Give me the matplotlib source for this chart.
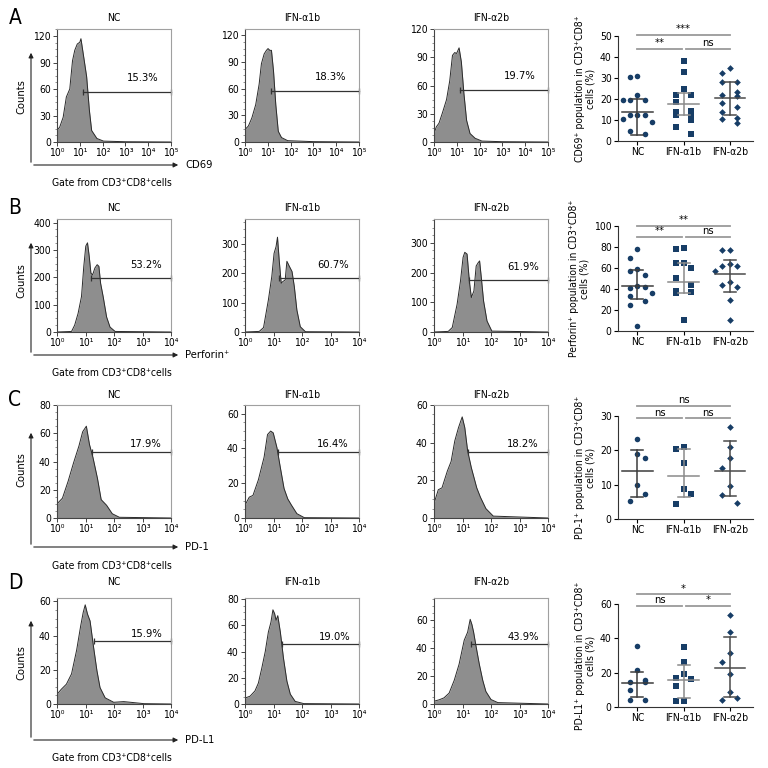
import numpy as np
import matplotlib.pyplot as plt
from matplotlib.patches import FancyArrowPatch
from matplotlib.ticker import AutoMinorLocator, FixedLocator, LogLocator, NullFormatter

plt.rcParams['font.family'] = ['DejaVu Sans']
plt.rcParams['font.stretch'] = 'condensed'

groups = ['NC', 'IFN-α1b', 'IFN-α2b']
row_letters = ['A', 'B', 'C', 'D']
markers_name = ['CD69', 'Perforin⁺', 'PD-1', 'PD-L1']
scatter_ylabels = ['CD69⁺ population in CD3⁺CD8⁺\ncells (%)',
                   'Perforin⁺ population in CD3⁺CD8⁺\ncells (%)',
                   'PD-1⁺ population in CD3⁺CD8⁺\ncells (%)',
                   'PD-L1⁺ population in CD3⁺CD8⁺\ncells (%)']

# ---- flow histograms: log10(fluorescence), counts ----
a_nc_x = [0, 0.12, 0.27, 0.41, 0.56, 0.68, 0.78, 0.89, 1.0, 1.05, 1.15, 1.3, 1.42, 1.52, 1.75, 2.04, 3.0, 5.0]
a_nc_y = [13, 17, 28, 51, 60, 92, 104, 111, 113, 117, 100, 74, 36, 13, 4, 1, 0.3, 0]
a_a1_x = [0, 0.15, 0.3, 0.47, 0.62, 0.72, 0.84, 0.94, 1.01, 1.09, 1.16, 1.25, 1.35, 1.46, 1.6, 1.87, 3.0, 5.0]
a_a1_y = [14, 18, 27, 42, 65, 88, 99, 103, 105, 103, 103, 80, 42, 12, 5, 1.5, 0.4, 0]
a_a2_x = [0, 0.1, 0.22, 0.37, 0.55, 0.69, 0.81, 0.91, 0.99, 1.1, 1.2, 1.31, 1.43, 1.58, 1.8, 2.1, 3.0, 5.0]
a_a2_y = [9, 16, 20, 31, 45, 65, 92, 95, 94, 100, 85, 52, 23, 9, 4, 1, 0.3, 0]

b_nc_x = [0, 0.51, 0.62, 0.74, 0.86, 0.94, 1.01, 1.07, 1.13, 1.19, 1.25, 1.33, 1.41, 1.47, 1.53, 1.62, 1.74, 1.86, 2.04, 4.0]
b_nc_y = [0, 2, 25, 68, 130, 240, 314, 326, 277, 215, 209, 234, 246, 240, 178, 129, 55, 18, 2, 0]
b_a1_x = [0, 0.5, 0.65, 0.82, 0.94, 1.02, 1.09, 1.14, 1.2, 1.27, 1.33, 1.41, 1.47, 1.56, 1.65, 1.73, 1.82, 1.94, 2.12, 4.0]
b_a1_y = [0, 2, 15, 109, 189, 268, 291, 323, 245, 166, 172, 177, 241, 223, 206, 155, 75, 18, 1, 0]
b_a2_x = [0, 0.5, 0.64, 0.81, 0.93, 1.02, 1.08, 1.16, 1.24, 1.31, 1.4, 1.48, 1.55, 1.6, 1.66, 1.74, 1.86, 2.03, 4.0]
b_a2_y = [0, 2, 15, 93, 172, 251, 268, 262, 172, 116, 138, 222, 233, 239, 183, 104, 37, 3, 0]

c_nc_x = [0, 0.19, 0.39, 0.58, 0.77, 0.9, 1.03, 1.14, 1.26, 1.42, 1.55, 1.74, 1.94, 2.19, 4.0]
c_nc_y = [10, 14, 26, 39, 51, 61, 65, 52, 43, 28, 13, 9, 3, 0.5, 0]
c_a1_x = [0, 0.15, 0.28, 0.47, 0.67, 0.79, 0.9, 0.99, 1.12, 1.24, 1.37, 1.5, 1.63, 1.82, 2.08, 4.0]
c_a1_y = [7.4, 12, 13, 22, 35, 48, 50, 49, 40.5, 29, 17, 11, 7.4, 2.5, 0.2, 0]
c_a2_x = [0, 0.15, 0.28, 0.47, 0.6, 0.73, 0.86, 0.99, 1.08, 1.18, 1.31, 1.5, 1.63, 1.82, 2.08, 4.0]
c_a2_y = [7.7, 15, 16, 25, 30, 41, 48, 53.7, 48, 35.7, 26.7, 16, 11, 5, 1, 0]

d_nc_x = [0, 0.15, 0.33, 0.51, 0.69, 0.83, 0.92, 0.99, 1.07, 1.16, 1.28, 1.4, 1.51, 1.69, 1.99, 2.34, 2.7, 3.05, 4.0]
d_nc_y = [5.6, 8.6, 11.6, 17.6, 31.6, 45.6, 53.6, 58, 52.6, 48.6, 33.6, 19.6, 9.6, 3.6, 1, 1.4, 0.8, 0.2, 0]
d_a1_x = [0, 0.18, 0.35, 0.47, 0.59, 0.71, 0.82, 0.91, 0.98, 1.04, 1.09, 1.15, 1.24, 1.35, 1.47, 1.59, 1.76, 2.06, 4.0]
d_a1_y = [4.5, 6, 10, 16, 27.5, 40, 55, 62.5, 72, 69, 64, 67.5, 55, 35, 17.5, 7.5, 2, 0.3, 0]
d_a2_x = [0, 0.18, 0.35, 0.53, 0.71, 0.88, 1.06, 1.18, 1.27, 1.33, 1.39, 1.47, 1.59, 1.71, 1.82, 2.0, 2.24, 4.0]
d_a2_y = [2, 3, 4.4, 7.8, 17, 28.5, 45.7, 51.5, 60.7, 57, 51.5, 42, 28.5, 17, 9, 3.2, 1, 0]

hist_x = [[a_nc_x, a_a1_x, a_a2_x], [b_nc_x, b_a1_x, b_a2_x],
          [c_nc_x, c_a1_x, c_a2_x], [d_nc_x, d_a1_x, d_a2_x]]
hist_y = [[a_nc_y, a_a1_y, a_a2_y], [b_nc_y, b_a1_y, b_a2_y],
          [c_nc_y, c_a1_y, c_a2_y], [d_nc_y, d_a1_y, d_a2_y]]

decades = [5, 4, 4, 4]
hist_ymax = [[128, 127, 120], [413, 385, 380], [80, 65, 60], [62, 81, 76]]
hist_ystep = [[30, 30, 30], [100, 100, 100], [20, 20, 20], [20, 20, 20]]

gate_pct = [['15.3%', '18.3%', '19.7%'], ['53.2%', '60.7%', '61.9%'],
            ['17.9%', '16.4%', '18.2%'], ['15.9%', '19.0%', '43.9%']]
gate_start = [[1.15, 1.16, 1.15], [1.21, 1.2, 1.22], [1.23, 1.15, 1.18], [1.31, 1.29, 1.29]]
gate_level = [[57, 57, 55], [197, 183, 175], [47, 38, 35], [37, 46, 43]]

# ---- scatter panels (% positive cells) ----
cd69_nc = [30.8, 30.5, 21.7, 19.5, 19.5, 19.5, 12.5, 12.5, 12.5, 10.5, 9, 5, 3.2]
cd69_a1 = [38, 33, 25, 22, 22, 18.5, 14.5, 14, 12.5, 12.5, 10, 6.5, 3.2]
cd69_a2 = [35, 32.5, 28, 28, 23.5, 22, 21.5, 18, 16, 14, 10.8, 10.5, 8.5]
cd69_mid = [14.0, 17.7, 20.3]
cd69_lo = [3.0, 12.3, 12.5]
cd69_hi = [20.0, 23.0, 28.0]
cd69_sig = ['**', 'ns', '***']

perf_nc = [78, 70, 59, 57.5, 53, 43, 42, 41, 36, 33, 29, 25, 5]
perf_a1 = [79.5, 78, 65, 64.5, 60, 50.5, 44, 38, 37, 37, 37, 36, 10]
perf_a2 = [77, 77, 64, 62, 61.5, 57, 47, 44, 42, 29.5, 10.5]
perf_mid = [42.5, 47.0, 54.0]
perf_lo = [30.5, 36.5, 37.5]
perf_hi = [58.5, 65.0, 68.0]
perf_sig = ['**', 'ns', '**']

pd1_nc = [23.3, 19, 17.9, 10, 7.3, 5.2]
pd1_a1 = [21, 20.5, 16.3, 8.8, 7.3, 4.4]
pd1_a2 = [26.8, 21, 17.7, 14.9, 9.6, 6.9, 4.7]
pd1_mid = [14.0, 12.6, 13.9]
pd1_lo = [6.5, 6.5, 6.8]
pd1_hi = [20.0, 20.5, 22.8]
pd1_sig = ['ns', 'ns', 'ns']

pdl1_nc = [35.5, 21.5, 16, 14.5, 14.5, 10, 4.3, 4.3]
pdl1_a1 = [35, 26.5, 19, 17, 16.5, 12, 3.3, 3.3]
pdl1_a2 = [53.5, 43.5, 31.7, 26.3, 19, 8.8, 5, 3.9]
pdl1_mid = [14.2, 16.0, 23.0]
pdl1_lo = [6.0, 5.5, 6.0]
pdl1_hi = [20.5, 24.5, 41.0]
pdl1_sig = ['ns', '*', '*']

sc_vals = [[cd69_nc, cd69_a1, cd69_a2], [perf_nc, perf_a1, perf_a2],
           [pd1_nc, pd1_a1, pd1_a2], [pdl1_nc, pdl1_a1, pdl1_a2]]
sc_mid = [cd69_mid, perf_mid, pd1_mid, pdl1_mid]
sc_lo = [cd69_lo, perf_lo, pd1_lo, pdl1_lo]
sc_hi = [cd69_hi, perf_hi, pd1_hi, pdl1_hi]
sc_sig = [cd69_sig, perf_sig, pd1_sig, pdl1_sig]
sc_ymax = [50, 100, 30, 60]
sc_ystep = [10, 20, 10, 20]

# ---- layout in pixels (768 x 768) ----
W = H = 768
hist_cols = [(57, 171), (245, 359), (434, 548)]
hist_rows = [(29, 142), (219, 332), (405, 518), (598, 704)]
title_y = [18, 208, 395, 582]
arrow_y = [165, 355, 547, 740]
arrow_top = [50, 240, 430, 618]
counts_y = [97, 281, 470, 663]
gate_txt_y = [183, 373, 566, 758]
pct_dy = [9, 8, 3, 2]
letter_y = [18, 208, 400, 583]
sc_rows = [(36, 141), (226, 331), (416, 519), (604, 707)]
sc_cols = (618, 753)
sig_levels = [(0.88, 1.01), (0.898, 1.003), (0.98, 1.097), (0.983, 1.095)]

fill_col = '#8e8e8e'
dot_col = '#173d66'
bar_cols = ['#3c3c3c', '#8a8a8a', '#4a4a4a']
sig_col = '#9a9a9a'
mk = ['o', 's', 'D']
mk_size = [4.0, 3.8, 3.4]


def rect(x0, x1, y0, y1):
    return [x0 / W, 1 - y1 / H, (x1 - x0) / W, (y1 - y0) / H]


def swarm(vals, ymax, step=0.16, gap=0.1):
    # spread dots with close values side by side, alternating sides
    placed, offs = [], []
    side = 1
    for v in vals:
        near = [po for pv, po in placed if abs(v - pv) / ymax < gap]
        cands = [0.0, side * step, -side * step, side * 2 * step, -side * 2 * step]
        c = cands[0]
        for c in cands:
            if all(abs(c - po) >= step * 0.99 for po in near):
                break
        if c == 0.0 and near:
            c = side * step
        side = -side
        placed.append((v, c))
        offs.append(c)
    return offs


fig = plt.figure(figsize=(7.68, 7.68), dpi=100)
fig.patch.set_facecolor('white')
sup = '⁰¹²³⁴⁵'

for r in range(4):
    top, bot = hist_rows[r]
    dec = decades[r]
    for g in range(3):
        x0, x1 = hist_cols[g]
        ax = fig.add_axes(rect(x0, x1, top, bot))
        lx = 10.0 ** np.array(hist_x[r][g])
        cy = np.array(hist_y[r][g])
        ax.fill_between(lx, cy, color=fill_col, lw=0)
        ax.plot(lx, cy, color='#2a2a2a', lw=0.7)
        ax.set_xscale('log')
        ax.set_xlim(1, 10 ** dec)
        ax.set_ylim(0, hist_ymax[r][g])
        ax.xaxis.set_major_locator(FixedLocator([10 ** k for k in range(dec + 1)]))
        ax.set_xticklabels(['10' + sup[k] for k in range(dec + 1)])
        ax.xaxis.set_minor_locator(LogLocator(base=10, subs=np.arange(2, 10)))
        ax.xaxis.set_minor_formatter(NullFormatter())
        st = hist_ystep[r][g]
        ax.set_yticks(np.arange(0, hist_ymax[r][g] + 0.1, st))
        ax.yaxis.set_minor_locator(AutoMinorLocator(4))
        ax.tick_params(which='major', length=3, width=0.7, labelsize=7.5, pad=1.5, color='#444')
        ax.tick_params(which='minor', length=1.5, width=0.5, color='#666')
        for s in ['left', 'bottom']:
            ax.spines[s].set_color('#444')
            ax.spines[s].set_linewidth(0.8)
        for s in ['top', 'right']:
            ax.spines[s].set_color('#a0a0a0')
            ax.spines[s].set_linewidth(0.8)
        # gate
        gl = gate_level[r][g]
        gs = gate_start[r][g]
        ax.plot([10 ** gs, 10 ** dec], [gl, gl], color='#333333', lw=0.9,
                marker='|', ms=4, mew=0.9, clip_on=False)
        ax.annotate(gate_pct[r][g], (10 ** (gs + 0.68 * (dec - gs)), gl),
                    xytext=(0, pct_dy[r] * 0.72), textcoords='offset points',
                    ha='center', va='bottom', fontsize=8)
        fig.text((x0 + x1) / 2 / W, 1 - title_y[r] / H, groups[g],
                 ha='center', va='center', fontsize=7.5)

    # axis arrows and labels for the NC column
    p0 = (31 / W, 1 - arrow_y[r] / H)
    fig.add_artist(FancyArrowPatch(p0, (31 / W, 1 - arrow_top[r] / H), transform=fig.transFigure,
                                   arrowstyle='-|>', mutation_scale=7, lw=0.8, color='#222'))
    fig.add_artist(FancyArrowPatch(p0, (181 / W, 1 - arrow_y[r] / H), transform=fig.transFigure,
                                   arrowstyle='-|>', mutation_scale=7, lw=0.8, color='#222'))
    fig.text(185 / W, 1 - arrow_y[r] / H, markers_name[r], ha='left', va='center', fontsize=8)
    fig.text(21 / W, 1 - counts_y[r] / H, 'Counts', rotation=90, ha='center', va='center', fontsize=8)
    fig.text(112 / W, 1 - gate_txt_y[r] / H, 'Gate from CD3⁺CD8⁺cells',
             ha='center', va='center', fontsize=7.5)
    fig.text(15 / W, 1 - letter_y[r] / H, row_letters[r], ha='center', va='center', fontsize=15)

    # scatter panel
    top, bot = sc_rows[r]
    ax = fig.add_axes(rect(sc_cols[0], sc_cols[1], top, bot))
    ym = sc_ymax[r]
    for g in range(3):
        vals = sc_vals[r][g]
        offs = swarm(vals, ym)
        ax.plot(g + np.array(offs), vals, ls='none', marker=mk[g], ms=mk_size[g],
                color=dot_col, mew=0, clip_on=False)
        c = bar_cols[g]
        ax.plot([g - 0.33, g + 0.33], [sc_mid[r][g]] * 2, color=c, lw=1.1)
        ax.plot([g, g], [sc_lo[r][g], sc_hi[r][g]], color=c, lw=1.1)
        ax.plot([g - 0.13, g + 0.13], [sc_lo[r][g]] * 2, color=c, lw=1.1)
        ax.plot([g - 0.13, g + 0.13], [sc_hi[r][g]] * 2, color=c, lw=1.1)
    lo_l, hi_l = sig_levels[r]
    sig = sc_sig[r]
    for (a, b), txt, lev in [((0, 0.96), sig[0], lo_l), ((1.05, 2), sig[1], lo_l), ((0, 2), sig[2], hi_l)]:
        ax.plot([a, b], [lev * ym, lev * ym], color=sig_col, lw=1.3, clip_on=False)
        ax.text((a + b) / 2 if b - a < 1.5 else 1.0, lev * ym + ym * 0.005, txt,
                ha='center', va='bottom', fontsize=8)
    ax.set_xlim(-0.42, 2.5)
    ax.set_ylim(0, ym)
    ax.set_yticks(np.arange(0, ym + 0.1, sc_ystep[r]))
    ax.set_xticks([0, 1, 2])
    ax.set_xticklabels(groups)
    ax.tick_params(length=3, width=0.8, labelsize=7.5, pad=1.5)
    for s in ['top', 'right']:
        ax.spines[s].set_visible(False)
    for s in ['left', 'bottom']:
        ax.spines[s].set_linewidth(0.8)
        ax.spines[s].set_color('#333')
    ax.set_ylabel(scatter_ylabels[r], fontsize=7.5, labelpad=3, linespacing=1.1)

fig.savefig('out.png', dpi=100)
